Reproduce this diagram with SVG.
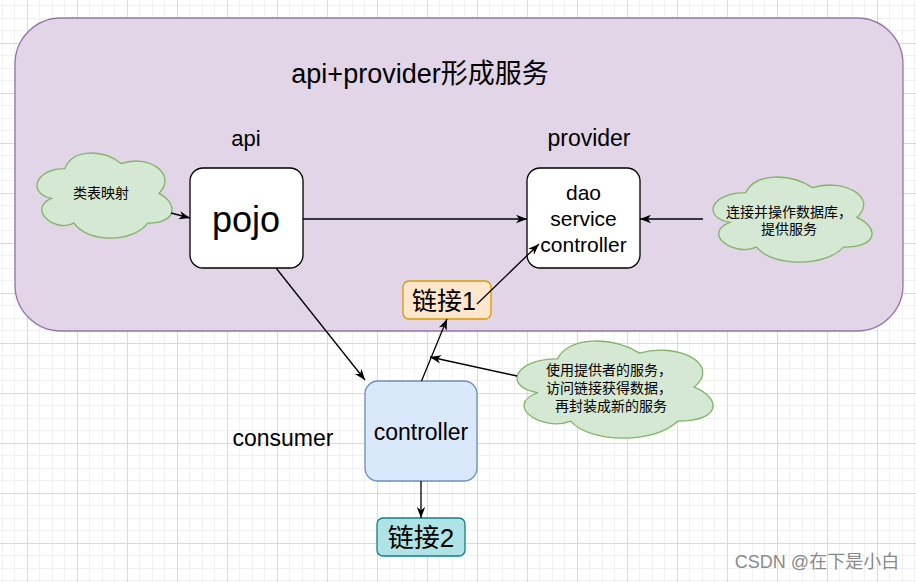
<svg xmlns="http://www.w3.org/2000/svg" width="916" height="582" viewBox="0 0 916 582">
<style>
text{font-family:"Liberation Sans","Noto Sans CJK SC",sans-serif;fill:#000;text-anchor:middle}
.cloud{fill:#d5e8d4;stroke:#82b366;stroke-width:1.3}
.box{fill:#fff;stroke:#000;stroke-width:1.3}
.edge{fill:none;stroke:#000;stroke-width:1.3;marker-end:url(#arr)}
.ct{font-size:14px}
</style>
<defs>
<pattern id="grid" patternUnits="userSpaceOnUse" x="27" y="43" width="50" height="50">
<rect width="50" height="50" fill="#fff"/>
<rect x="12" y="0" width="1" height="50" fill="#f1f1f1"/>
<rect x="25" y="0" width="1" height="50" fill="#f1f1f1"/>
<rect x="37" y="0" width="1" height="50" fill="#f1f1f1"/>
<rect x="0" y="12" width="50" height="1" fill="#f1f1f1"/>
<rect x="0" y="25" width="50" height="1" fill="#f1f1f1"/>
<rect x="0" y="37" width="50" height="1" fill="#f1f1f1"/>
<rect x="0" y="0" width="1" height="50" fill="#dadada"/>
<rect x="0" y="0" width="50" height="1" fill="#dadada"/>
</pattern>
<marker id="arr" viewBox="0 0 11 10" refX="11" refY="5" markerWidth="11" markerHeight="10" markerUnits="userSpaceOnUse" orient="auto">
<path d="M0,0.8 L11,5 L0,9.2 L3.2,5 Z" fill="#000"/>
</marker>
<path id="cloudshape" d="M25,25 C5,25 0,50 16,55 C0,66 18,90 31,80 C40,100 70,100 80,80 C100,80 100,60 87.5,50 C100,30 80,10 62.5,20 C50,5 30,5 25,25 Z"/>
</defs>
<rect width="916" height="582" fill="url(#grid)"/>

<g id="service-group">
<rect x="15" y="18" width="888" height="313" rx="46" ry="46" fill="#e1d5e7" stroke="#9673a6" stroke-width="1.3"/>
<text x="420" y="83" font-size="27">api+provider形成服务</text>
</g>
<g id="label-api"><text x="246" y="146" font-size="22">api</text></g>
<g id="label-provider"><text x="589" y="146" font-size="23">provider</text></g>
<g id="label-consumer"><text x="283" y="446" font-size="23">consumer</text></g>

<g id="cloud-mapping">
<path class="cloud" vector-effect="non-scaling-stroke" transform="translate(27.2,143.8) scale(1.507,0.992)" d="M25,25 C5,25 0,50 16,55 C0,66 18,90 31,80 C40,100 70,100 80,80 C100,80 100,60 87.5,50 C100,30 80,10 62.5,20 C50,5 30,5 25,25 Z"/>
<text class="ct" x="101" y="198">类表映射</text>
</g>

<g id="pojo">
<rect class="box" x="190" y="168" width="113" height="100" rx="13" ry="13"/>
<text x="246" y="232" font-size="36">pojo</text>
</g>

<g id="provider">
<rect class="box" x="527" y="168" width="113" height="100" rx="13" ry="13"/>
<text x="583.5" y="200" font-size="21">dao</text>
<text x="583.5" y="226" font-size="21">service</text>
<text x="583.5" y="252" font-size="21">controller</text>
</g>

<g id="cloud-db">
<path class="cloud" vector-effect="non-scaling-stroke" transform="translate(701.5,167.8) scale(1.775,0.992)" d="M25,25 C5,25 0,50 16,55 C0,66 18,90 31,80 C40,100 70,100 80,80 C100,80 100,60 87.5,50 C100,30 80,10 62.5,20 C50,5 30,5 25,25 Z"/>
<text class="ct" x="789" y="217">连接并操作数据库，</text>
<text class="ct" x="789" y="234">提供服务</text>
</g>

<g id="link1">
<rect x="403" y="281" width="88" height="38" rx="6" ry="6" fill="#ffe6cc" stroke="#d79b00" stroke-width="1.3"/>
<text x="444" y="310" font-size="25">链接1</text>
</g>

<g id="controller">
<rect x="365" y="381" width="112" height="100" rx="13" ry="13" fill="#dae8fc" stroke="#6c8ebf" stroke-width="1.3"/>
<text x="421" y="440" font-size="23">controller</text>
</g>

<g id="cloud-consumer">
<path class="cloud" vector-effect="non-scaling-stroke" transform="translate(502.8,330.5) scale(2.188,1.132)" d="M25,25 C5,25 0,50 16,55 C0,66 18,90 31,80 C40,100 70,100 80,80 C100,80 100,60 87.5,50 C100,30 80,10 62.5,20 C50,5 30,5 25,25 Z"/>
<text class="ct" x="609" y="375">使用提供者的服务，</text>
<text class="ct" x="609" y="393">访问链接获得数据，</text>
<text class="ct" x="611" y="411">再封装成新的服务</text>
</g>

<g id="link2">
<rect x="377" y="518" width="88" height="38" rx="6" ry="6" fill="#b0e3e6" stroke="#0e8088" stroke-width="1.3"/>
<text x="421" y="547" font-size="26">链接2</text>
</g>

<g id="connectors">
<line class="edge" x1="171" y1="213" x2="190" y2="218"/>
<line class="edge" x1="303" y1="219" x2="527" y2="219"/>
<line class="edge" x1="703" y1="219" x2="640" y2="219"/>
<line class="edge" x1="477" y1="304" x2="539" y2="244"/>
<line class="edge" x1="276" y1="268" x2="365" y2="380"/>
<line class="edge" x1="421.5" y1="381" x2="447" y2="319"/>
<line class="edge" x1="517" y1="376" x2="430" y2="357"/>
<line class="edge" x1="421" y1="481" x2="421" y2="518"/>
</g>

<g id="watermark"><text x="817" y="568" font-size="18" style="fill:#8a8a8a">CSDN @在下是小白</text></g>
</svg>
